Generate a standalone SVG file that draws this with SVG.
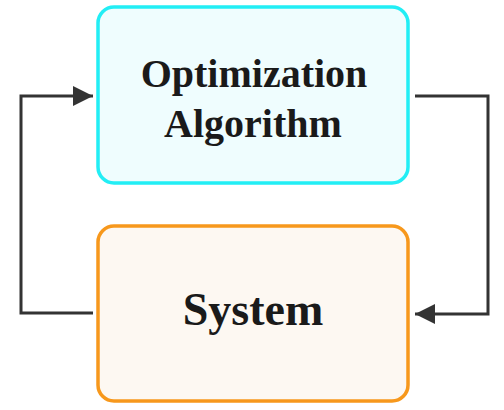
<svg xmlns="http://www.w3.org/2000/svg" width="504" height="410" viewBox="0 0 504 410">
  <defs>
    <style>
      .lbl { font-family: "Liberation Serif", "Times New Roman", serif; font-weight: bold; fill: #1a1a1a; text-anchor: middle; }
      .conn { fill: none; stroke: #333333; stroke-width: 3; stroke-linejoin: miter; }
    </style>
    <marker id="arrow" viewBox="0 0 20 20" refX="20" refY="10" markerWidth="20" markerHeight="20" markerUnits="userSpaceOnUse" orient="auto">
      <path d="M0,0 L20,10 L0,20 Z" fill="#333333"/>
    </marker>
  </defs>
  <rect width="504" height="410" fill="#ffffff"/>
  <g id="optimization-algorithm">
    <rect x="98" y="7" width="310" height="176" rx="16" ry="16" fill="#effdfe" stroke="#22eef5" stroke-width="3.5"/>
    <text class="lbl" x="254" y="87" font-size="40">Optimization</text>
    <text class="lbl" x="253" y="137" font-size="40">Algorithm</text>
  </g>
  <g id="system">
    <rect x="98" y="226" width="310" height="175" rx="16" ry="16" fill="#fdf8f2" stroke="#f7981c" stroke-width="3.5"/>
    <text class="lbl" x="253" y="325" font-size="46">System</text>
  </g>
  <g id="connectors">
    <path class="conn" d="M93,313 L21,313 L21,96 L93,96" marker-end="url(#arrow)"/>
    <path class="conn" d="M415,96 L488,96 L488,314 L415,314" marker-end="url(#arrow)"/>
  </g>
</svg>
